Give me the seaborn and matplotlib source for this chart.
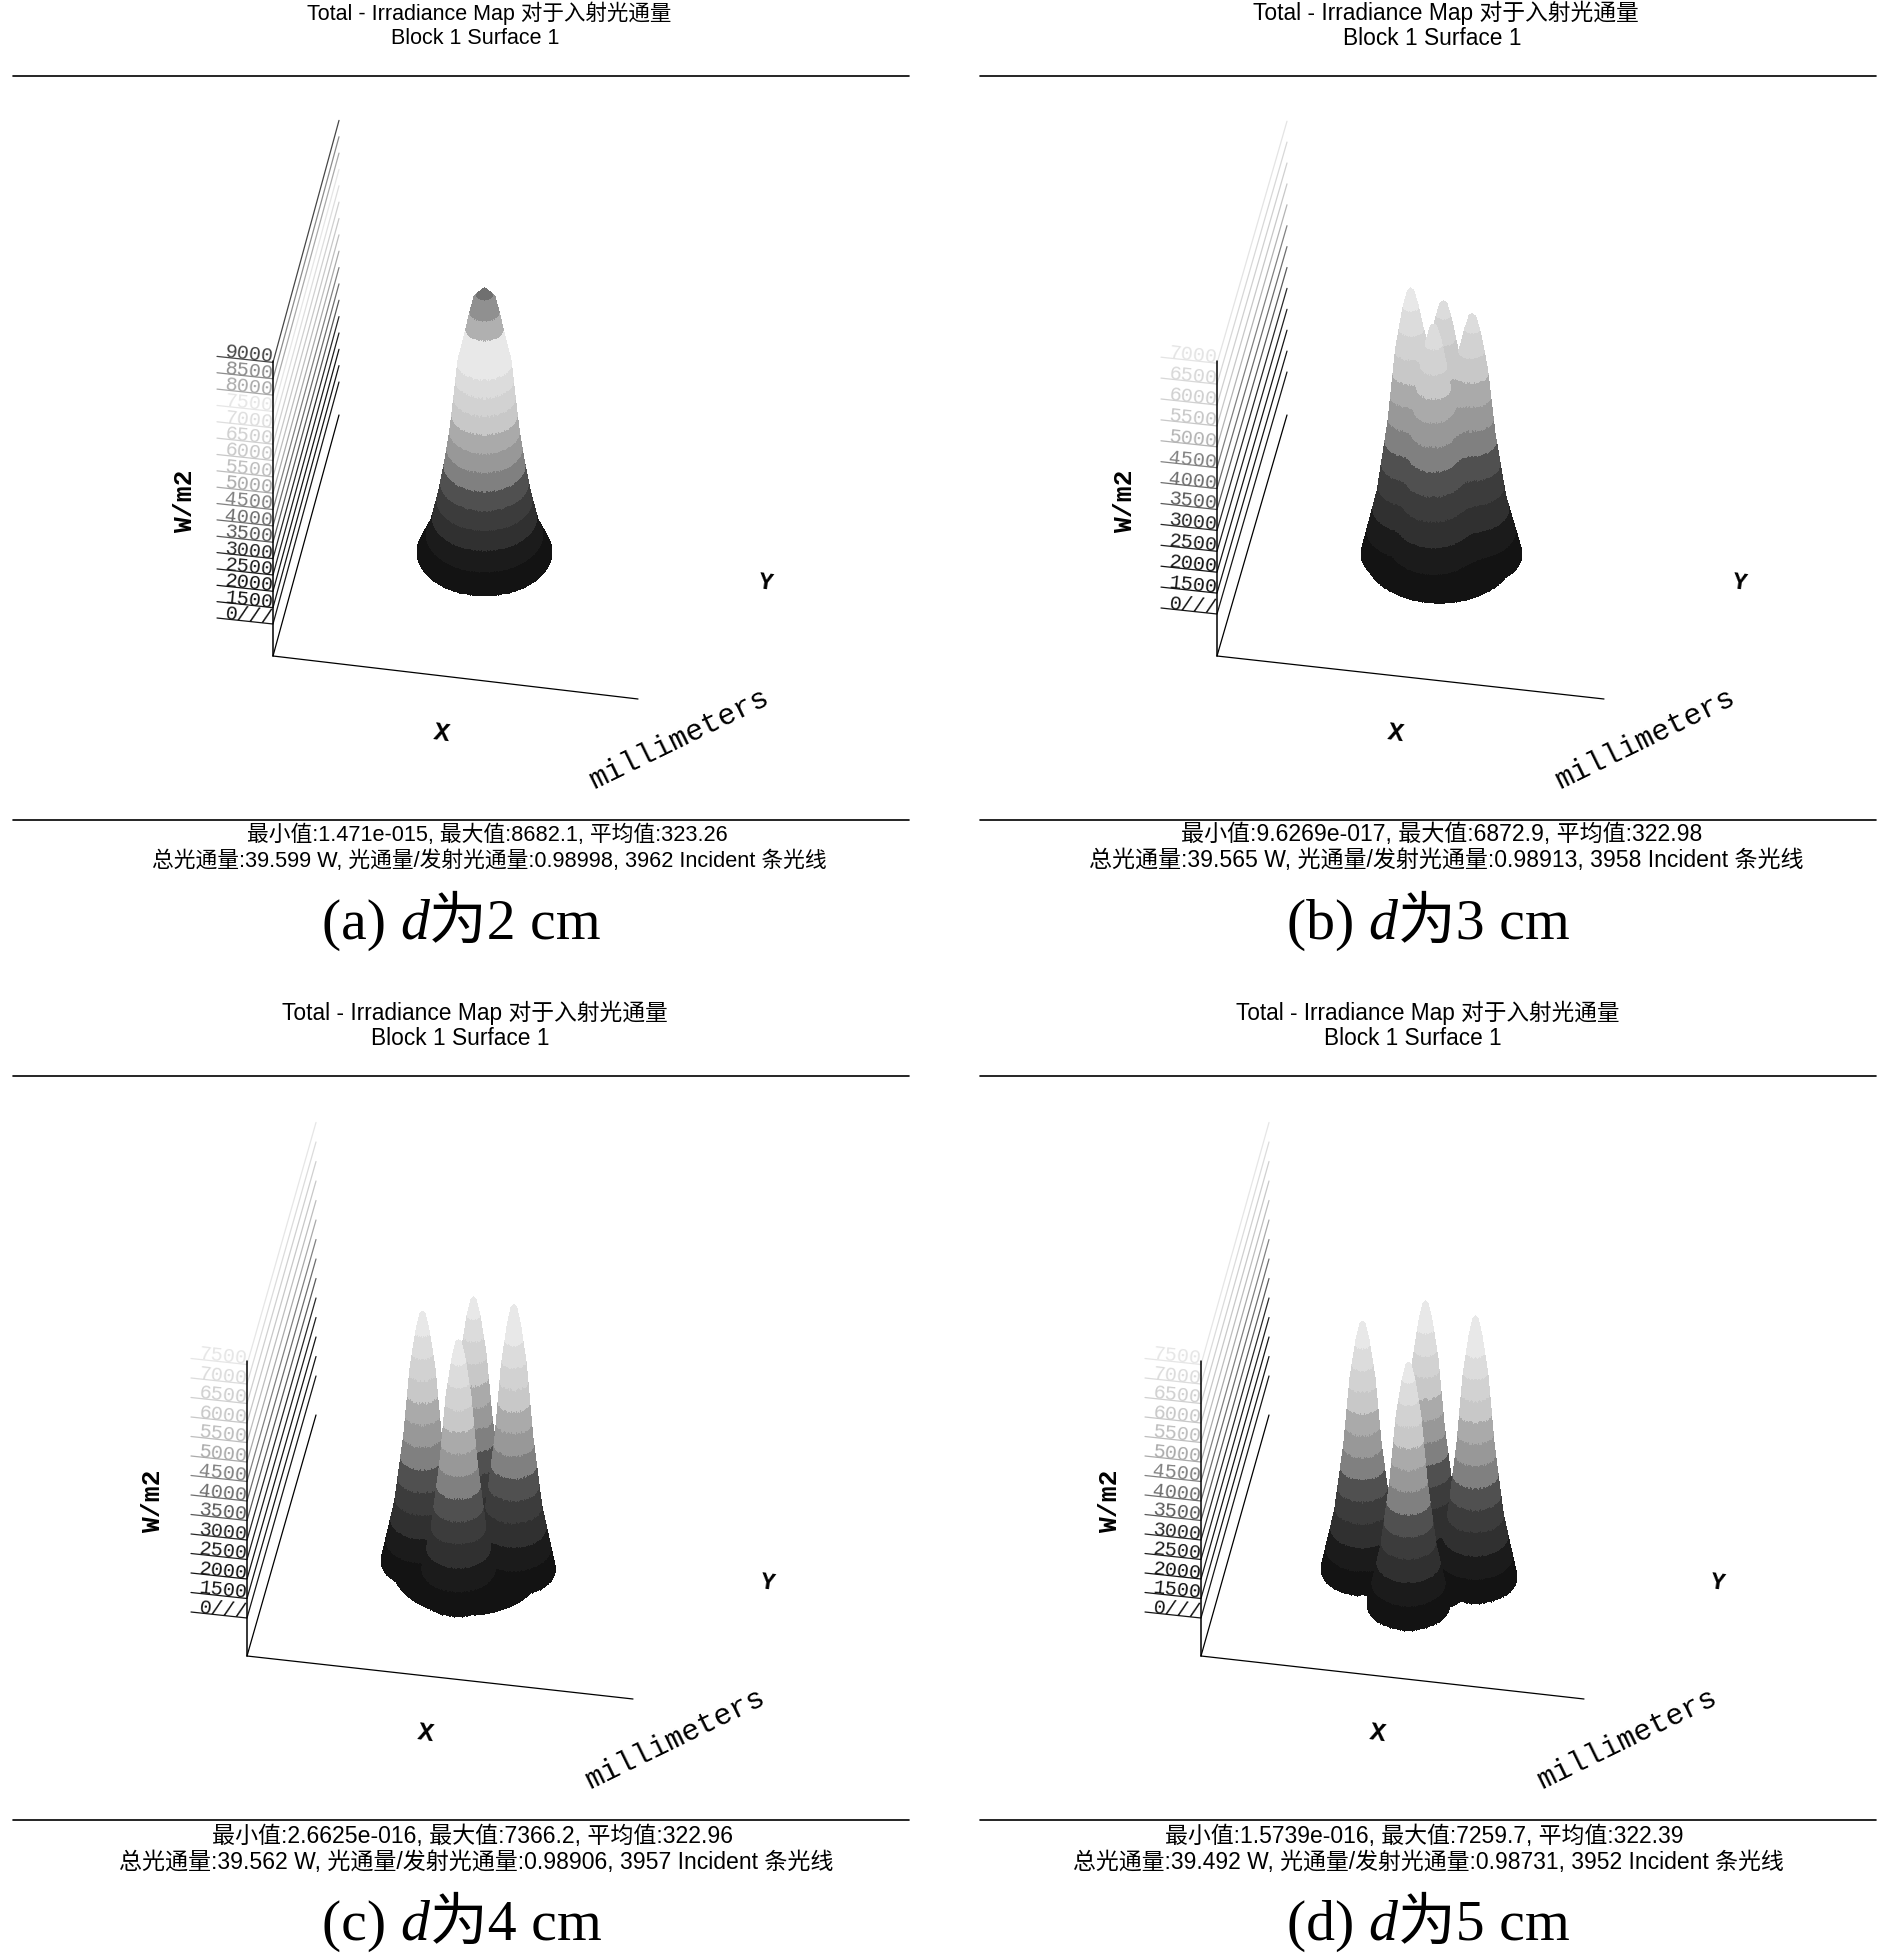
import numpy as np
import pandas as pd
import seaborn as sns
from matplotlib import pyplot as plt

PANELS = ['a', 'b', 'c', 'd']
DISTANCE_CM = [2, 3, 4, 5]

MIN_VALUE = ['1.471e-015', '9.6269e-017', '2.6625e-016', '1.5739e-016']
MAX_VALUE = ['8682.1', '6872.9', '7366.2', '7259.7']
MEAN_VALUE = ['323.26', '322.98', '322.96', '322.39']
TOTAL_FLUX = ['39.599', '39.565', '39.562', '39.492']
FLUX_RATIO = ['0.98998', '0.98913', '0.98906', '0.98731']
RAY_COUNT = ['3962', '3958', '3957', '3952']

TICKS_A = [0, 1500, 2000, 2500, 3000, 3500, 4000, 4500, 5000, 5500, 6000, 6500, 7000, 7500, 8000, 8500, 9000]
TICKS_B = [0, 1500, 2000, 2500, 3000, 3500, 4000, 4500, 5000, 5500, 6000, 6500, 7000]
TICKS_C = [0, 1500, 2000, 2500, 3000, 3500, 4000, 4500, 5000, 5500, 6000, 6500, 7000, 7500]
TICKS_D = TICKS_C

GRAY_A = [20, 20, 20, 30, 40, 90, 110, 130, 170, 190, 200, 208, 222, 230, 170, 140, 70]
GRAY_B = [20, 20, 20, 30, 40, 90, 110, 130, 180, 200, 208, 216, 228]
GRAY_C = [20, 20, 20, 30, 40, 90, 110, 130, 170, 190, 200, 208, 220, 230]
GRAY_D = GRAY_C

# band colours of the surface, lowest irradiance first
BAND_GRAY = [19, 27, 48, 60, 80, 128, 152, 170, 200, 210, 220, 232, 232, 176, 144, 112]
BAND_STEP = [560, 575, 575, 565]

# peak positions on the detector (mm), height (W/m2) and base radius (mm)
# the first entry of b, c and d is the broad hump under the spikes
PEAK_U_A = [0.0]
PEAK_V_A = [0.0]
PEAK_H_A = [8682.0]
PEAK_R_A = [34.0]
PEAK_U_B = [0.0, -14.5, 2.0, 16.5, -3.0]
PEAK_V_B = [0.0, 0.0, 11.5, 0.0, -12.3]
PEAK_H_B = [4800.0, 6800.0, 6050.0, 6150.0, 6250.0]
PEAK_R_B = [38.0, 25.0, 25.0, 25.0, 25.0]
PEAK_U_C = [0.0, -22.5, 3.0, 23.2, -4.5]
PEAK_V_C = [0.0, 3.8, 17.0, -2.3, -18.5]
PEAK_H_C = [1500.0, 6945.0, 6860.0, 7366.0, 6970.0]
PEAK_R_C = [38.0, 21.0, 21.0, 21.0, 21.0]
PEAK_U_D = [0.0, -28.0, 3.5, 28.5, -5.0]
PEAK_V_D = [0.0, 3.8, 15.4, -2.3, -23.0]
PEAK_H_D = [1500.0, 6890.0, 7030.0, 7259.0, 6720.0]
PEAK_R_D = [30.0, 21.0, 21.0, 21.0, 21.0]

# radial shape of a peak: panel (a) and the sharper spikes of the other panels
PROFILE_R = [0, 0.17, 0.235, 0.29, 0.40, 0.455, 0.515, 0.59, 0.69, 0.82, 1.0]
PROFILE_Z = [1, 0.955, 0.89, 0.83, 0.717, 0.59, 0.46, 0.34, 0.21, 0.087, 0.0]
SPIKE_R = [0, 0.08, 0.17, 0.31, 0.46, 0.68, 1.0]
SPIKE_Z = [1, 0.985, 0.92, 0.77, 0.5, 0.23, 0.0]

TICKS = [TICKS_A, TICKS_B, TICKS_C, TICKS_D]
GRAYS = [GRAY_A, GRAY_B, GRAY_C, GRAY_D]
PEAKS = [(PEAK_U_A, PEAK_V_A, PEAK_H_A, PEAK_R_A), (PEAK_U_B, PEAK_V_B, PEAK_H_B, PEAK_R_B),
         (PEAK_U_C, PEAK_V_C, PEAK_H_C, PEAK_R_C), (PEAK_U_D, PEAK_V_D, PEAK_H_D, PEAK_R_D)]

# layout in figure pixels
RULE_X = [(13, 909), (980, 1876), (13, 909), (980, 1876)]
ROW_Y = [0, 0, 1000, 1000]
AXIS_X = [273, 1217, 247, 1201]
FLOOR_END = [638, 1604, 633, 1584]
WALL_X = [339, 1287, 316, 1269]
TICK_STEP = [16.35, 20.9, 19.5, 19.5]
TICK_ZERO = [619, 609, 1613, 1613]
CENTER_X = [484, 1439, 467, 1418]
CENTER_Y = [553, 555, 1567, 1575]
Z_SCALE = [0.0305, 0.039, 0.036, 0.036]
TITLE1_X = [489, 1446, 475, 1428]
TITLE2_X = [475, 1432, 460, 1413]
STAT1_X = [487, 1442, 472, 1424]
STAT2_X = [489, 1446, 476, 1428]
TITLE_SIZE = [15.5, 16.4, 16.4, 16.3]
STAT_SIZE = [15.7, 16.6, 16.6, 16.5]
CAPTION_X = [322, 1287, 322, 1287]
WM2_X = [185, 1125, 153, 1110]
Y_LABEL_X = [766, 1740, 768, 1718]
X_LABEL_X = [442, 1396, 426, 1378]
MM_LABEL_X = [679, 1645, 675, 1627]

SANS = ['Liberation Sans', 'Noto Sans CJK SC']
SERIF = ['Liberation Serif', 'Noto Sans CJK SC']
MONO = ['Liberation Mono']


def gray_hex(g):
    return f'#{g:02x}{g:02x}{g:02x}'


def draw_surface(ax, i):
    us, vs, hs, rs = PEAKS[i]
    grid_u = np.arange(-90, 90, 0.5)
    grid_v = np.arange(80, -80, -0.15)
    uu, vv = np.meshgrid(grid_u, grid_v)
    total = np.zeros_like(uu)
    inside = np.zeros_like(uu, dtype=bool)
    for n, (u0, v0, h, radius) in enumerate(zip(us, vs, hs, rs)):
        r = np.hypot(uu - u0, vv - v0) / radius
        if i == 0 or n == 0:
            shape = np.interp(r, PROFILE_R, PROFILE_Z)
        else:
            shape = np.interp(r, SPIKE_R, SPIKE_Z)
        total += (h * shape) ** 6
        inside |= r < 1
    zz = total ** (1 / 6)
    sy = CENTER_Y[i] - 1.3 * vv - Z_SCALE[i] * zz
    band = np.minimum((zz / BAND_STEP[i]).astype(int), len(BAND_GRAY) - 1)
    shade = np.array(BAND_GRAY, dtype=float)[band]

    # paint each screen column from the back of the detector to the front
    y_top = int(CENTER_Y[i]) - 330
    img = np.full((460, len(grid_u)), np.nan)
    for col in range(len(grid_u)):
        rows = np.nonzero(inside[:, col])[0]
        if len(rows) == 0:
            continue
        ys = sy[rows, col] - y_top
        gs = shade[rows, col]
        prev = ys[0]
        for y, g in zip(ys, gs):
            low = int(min(prev, y))
            high = int(max(prev, y)) + 1
            img[low:high, col] = g
            prev = y
    x0 = CENTER_X[i] - 180
    ax.imshow(img, cmap='gray', vmin=0, vmax=255, interpolation='nearest', aspect='auto',
              extent=(x0, x0 + len(grid_u), y_top + 460, y_top), zorder=3)


def draw_walls(ax, i):
    ticks = TICKS[i]
    x0 = AXIS_X[i]
    x1 = WALL_X[i]
    x_left = x0 - 56
    rows = []
    palette = {}
    bottom = 657 + ROW_Y[i]
    # line from the axis foot up the wall
    rows.append({'line': 'foot', 'x': x0, 'y': bottom})
    rows.append({'line': 'foot', 'x': x1, 'y': bottom - 241})
    palette['foot'] = '#000000'
    for n, tick in enumerate(ticks):
        y_left = TICK_ZERO[i] - n * TICK_STEP[i]
        y_right = y_left + 6
        name = f'w{tick}'
        rows.append({'line': name, 'x': x_left, 'y': y_left})
        rows.append({'line': name, 'x': x0, 'y': y_right})
        rows.append({'line': name, 'x': x1, 'y': y_right - 242})
        palette[name] = gray_hex(GRAYS[i][n])
        label = '0///' if tick == 0 else str(tick)
        ax.text(x0 - 24, y_left - 3, label, family=MONO, fontsize=14.5, color=gray_hex(GRAYS[i][n]),
                rotation=-6, ha='center', va='center', rotation_mode='anchor')
    rows.append({'line': 'floor', 'x': x0, 'y': bottom})
    rows.append({'line': 'floor', 'x': FLOOR_END[i], 'y': bottom + 43})
    palette['floor'] = '#000000'
    df = pd.DataFrame(rows)
    sns.lineplot(data=df, x='x', y='y', hue='line', units='line', estimator=None, palette=palette,
                 linewidth=0.9, legend=False, sort=False, ax=ax)
    ax.plot([x0, x0], [bottom, bottom - 295], color='black', lw=1.1)


def draw_caption(fig, ax, i, y):
    x = CAPTION_X[i]
    renderer = fig.canvas.get_renderer()
    for text, style in [(f'({PANELS[i]}) ', 'normal'), ('d', 'italic'), (f'为{DISTANCE_CM[i]} cm', 'normal')]:
        t = ax.text(x, y, text.replace(' ', '\u00a0'), family=SERIF, style=style, fontsize=41.6,
                    color='black', ha='left', va='center', transform=None)
        x = t.get_window_extent(renderer).x1


sns.set_theme(style='white')
fig = plt.figure(figsize=(18.9, 19.58), dpi=100)
ax = fig.add_axes([0, 0, 1, 1])
ax.axis('off')

for i in range(4):
    row = ROW_Y[i]
    draw_walls(ax, i)
    draw_surface(ax, i)

    ax.plot(RULE_X[i], [77 + row, 77 + row], color='black', lw=1.2)
    ax.plot(RULE_X[i], [821 + row, 821 + row], color='black', lw=1.2)

    ax.text(TITLE1_X[i], 13 + row, 'Total - Irradiance Map 对于入射光通量', family=SANS, fontsize=TITLE_SIZE[i],
            ha='center', va='center', color='black')
    ax.text(TITLE2_X[i], 38.5 + row, 'Block 1 Surface 1', family=SANS, fontsize=TITLE_SIZE[i],
            ha='center', va='center', color='black')
    ax.text(STAT1_X[i], 835 + row * 1.002, f'最小值:{MIN_VALUE[i]}, 最大值:{MAX_VALUE[i]}, 平均值:{MEAN_VALUE[i]}',
            family=SANS, fontsize=STAT_SIZE[i], ha='center', va='center', color='black')
    ax.text(STAT2_X[i], 861 + row * 1.002,
            f'总光通量:{TOTAL_FLUX[i]} W, 光通量/发射光通量:{FLUX_RATIO[i]}, {RAY_COUNT[i]} Incident 条光线',
            family=SANS, fontsize=STAT_SIZE[i], ha='center', va='center', color='black')

    ax.text(WM2_X[i], 501 + row, 'W/m2', family=MONO, weight='bold', fontsize=19, rotation=90,
            ha='center', va='center', color='black')
    ax.text(Y_LABEL_X[i], 583 + row, 'Y', family=MONO, weight='bold', fontsize=17, rotation=-8,
            ha='center', va='center', color='black')
    ax.text(X_LABEL_X[i], 733 + row, 'X', family=MONO, weight='bold', fontsize=19, rotation=-8,
            ha='center', va='center', color='black')
    ax.text(MM_LABEL_X[i], 739 + row, 'millimeters', family=MONO, fontsize=21.5, rotation=26,
            ha='center', va='center', color='black')

ax.set_xlim(0, 1890)
ax.set_ylim(1958, 0)
for i in range(4):
    # captions are placed in figure pixels, measured from the bottom
    draw_caption(fig, ax, i, 1958 - (925 + ROW_Y[i] * 1.001))

fig.savefig('out.png', dpi=100, facecolor='white')
